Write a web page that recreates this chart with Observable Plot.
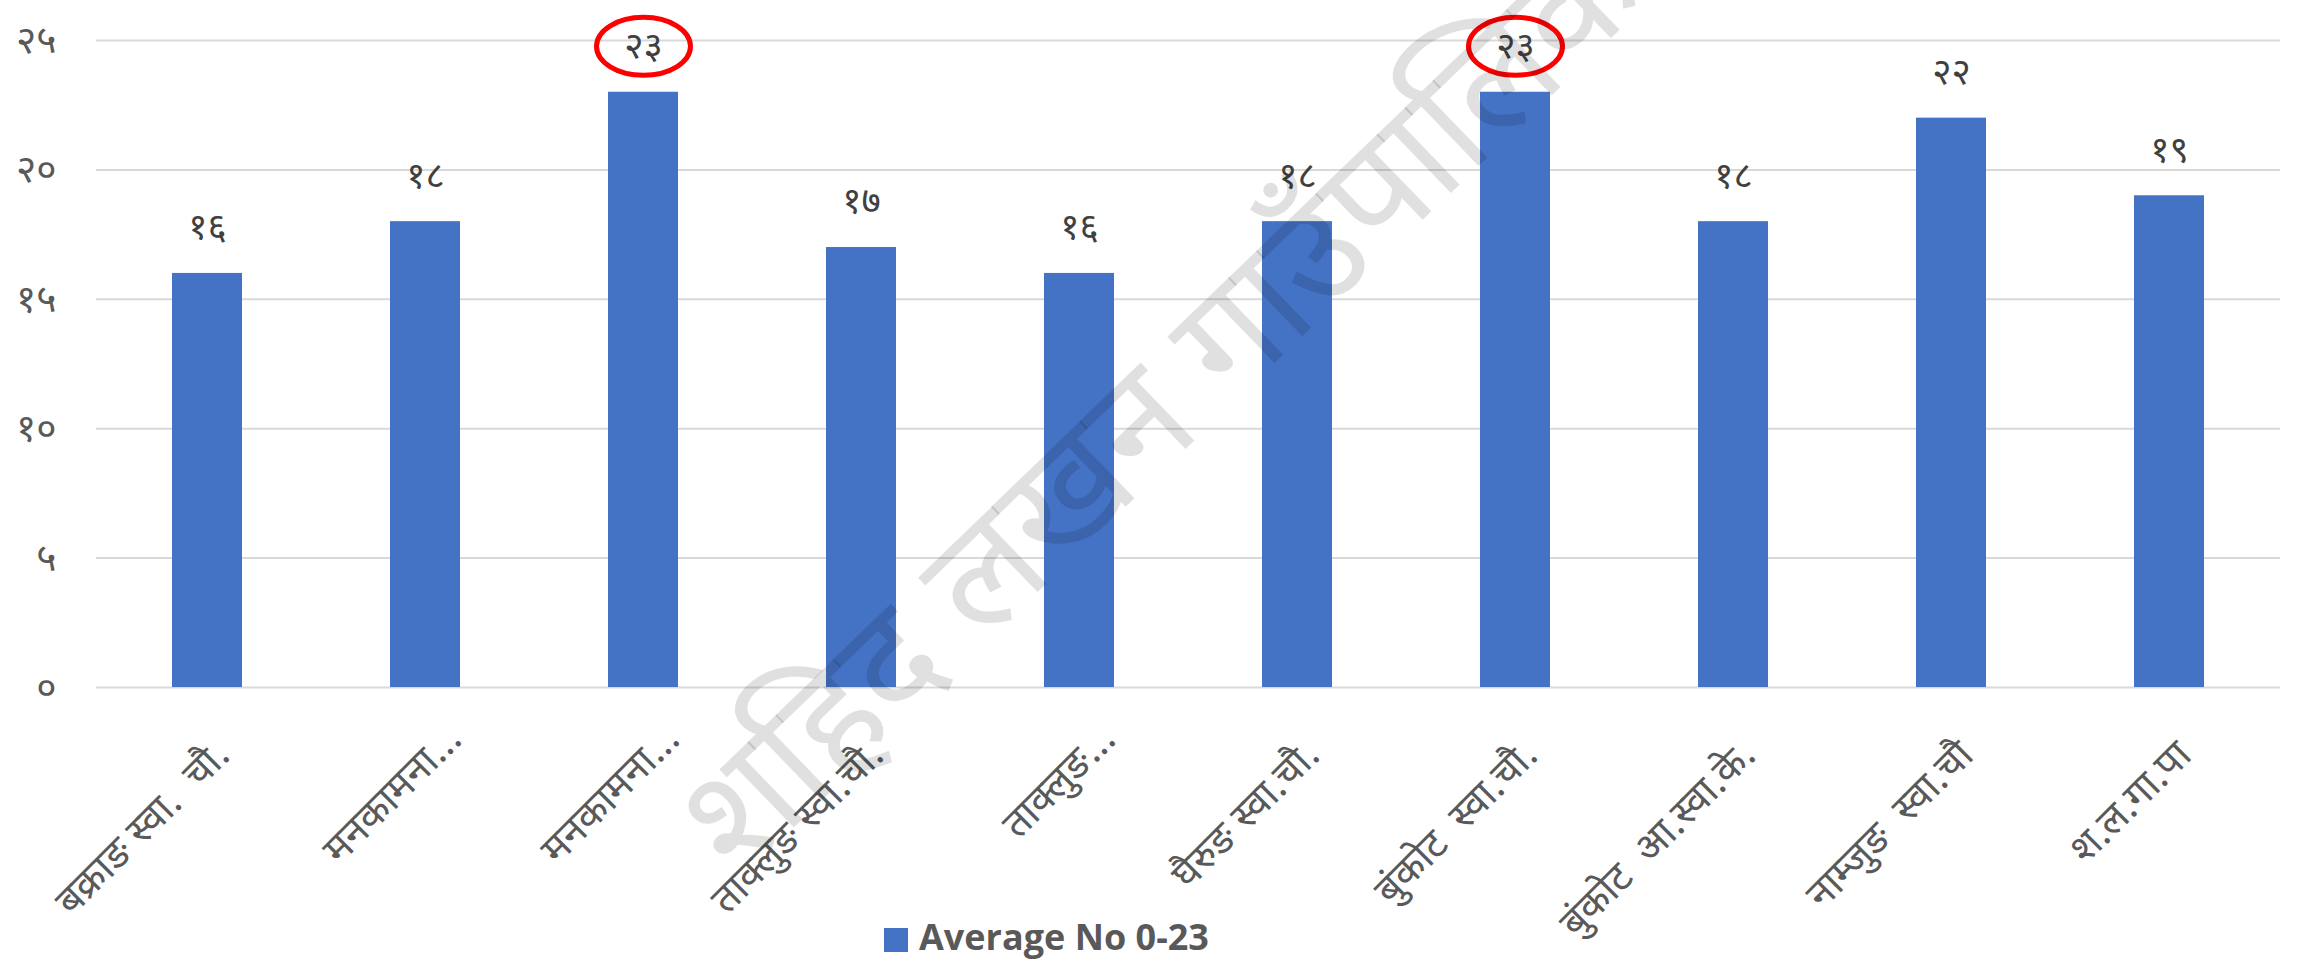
<!DOCTYPE html>
<html>
<head>
<meta charset="utf-8">
<script src="https://cdn.jsdelivr.net/npm/d3@7"></script>
<script src="https://cdn.jsdelivr.net/npm/@observablehq/plot@0.6"></script>
<style>
  html, body { margin: 0; padding: 0; background: #ffffff; }
  #chart { width: 2321px; height: 964px; position: relative; overflow: hidden; }
  #legend { position: relative; height: 64px; font-family: "Open Sans", "Noto Sans", sans-serif; }
  #legend .sw { position: absolute; left: 884px; top: 28px; width: 24px; height: 24px; background: #4472c4; }
  #legend .lb { position: absolute; left: 919px; top: 14px; font-size: 36px; font-weight: bold; color: #595959; line-height: 46px; white-space: nowrap; }
</style>
</head>
<body>
<div id="chart"></div>
<script>
// ---- data ----
const categories = [
  "बक्राङ स्वा.\u00a0 चौ.",
  "मनकामना...",
  "मनकामना...",
  "ताक्लुङ स्वा.चौ.",
  "ताक्लुङ...",
  "घैरुङ स्वा.चौ.",
  "बुंकोट\u00a0 स्वा.चौ.",
  "बुंकोट\u00a0 आ.स्वा.के.",
  "नाम्जुङ\u00a0 स्वा.चौ",
  "श.ल.गा.पा"
];
const values = [16, 18, 23, 17, 16, 18, 23, 18, 22, 19];
const valueLabels = ["१६", "१८", "२३", "१७", "१६", "१८", "२३", "१८", "२२", "१९"];
const highlighted = [2, 6];
const yTicks = [0, 5, 10, 15, 20, 25];
const yTickLabels = ["०", "५", "१०", "१५", "२०", "२५"];
const seriesName = "Average No 0-23";
const watermark = "शहिद लखन गाउँपालिका";

const rows = categories.map((c, i) => ({key: i, label: c, value: values[i], text: valueLabels[i]}));
const circled = rows.filter(d => highlighted.includes(d.key));
const fullLabels = rows.filter(d => !d.label.endsWith("..."));
const cutLabels = rows.filter(d => d.label.endsWith("..."));

const devFont = "'Noto Sans Devanagari', 'Noto Sans', 'Open Sans', sans-serif";

// ellipse symbol for the red highlight rings
const ellipse = {
  draw(ctx, size) {
    const r = Math.sqrt(size / Math.PI);
    const rx = r * 1.62, ry = r, k = 0.5523;
    ctx.moveTo(rx, 0);
    ctx.bezierCurveTo(rx, ry * k, rx * k, ry, 0, ry);
    ctx.bezierCurveTo(-rx * k, ry, -rx, ry * k, -rx, 0);
    ctx.bezierCurveTo(-rx, -ry * k, -rx * k, -ry, 0, -ry);
    ctx.bezierCurveTo(rx * k, -ry, rx, -ry * k, rx, 0);
    ctx.closePath();
  }
};

const labelStyle = {
  x: "key", text: "label", frameAnchor: "bottom", rotate: -45,
  textAnchor: "end", lineAnchor: "bottom", fontSize: 40, fill: "#595959"
};

const plot = Plot.plot({
  width: 2321,
  height: 900,
  marginLeft: 96,
  marginRight: 41,
  marginTop: 40,
  marginBottom: 213,
  style: {fontFamily: devFont, background: "#ffffff", overflow: "visible"},
  x: {type: "band", domain: rows.map(d => d.key), paddingInner: 0.68, paddingOuter: 0.34, axis: null},
  y: {domain: [0, 25], axis: null},
  marks: [
    Plot.gridY(yTicks, {stroke: "#d9d9d9", strokeOpacity: 1, strokeWidth: 2}),
    Plot.axisY(yTicks, {
      label: null, tickSize: 0, tickPadding: 40, fontSize: 39, fill: "#595959",
      tickFormat: d => yTickLabels[yTicks.indexOf(d)]
    }),
    Plot.barY(rows, {x: "key", y: "value", fill: "#4472c4"}),
    Plot.text(rows, {x: "key", y: "value", text: "text", dy: -46, fontSize: 37, fill: "#404040"}),
    Plot.dot(circled, {x: "key", y: "value", dy: -46, r: 29, symbol: ellipse, stroke: "#ff0000", strokeWidth: 5, fill: "none"}),
    Plot.text(fullLabels, {...labelStyle, dx: 24, dy: 70}),
    Plot.text(cutLabels, {...labelStyle, dx: 38, dy: 54}),
    Plot.text([watermark], {
      text: d => d, frameAnchor: "middle", dx: -12, dy: 27, rotate: -44,
      fontSize: 150, fill: "#000000", fillOpacity: 0.12
    })
  ]
});

const chart = document.getElementById("chart");
chart.appendChild(plot);
const legend = document.createElement("div");
legend.id = "legend";
legend.innerHTML = `<div class="sw"></div><div class="lb"></div>`;
legend.querySelector(".lb").textContent = seriesName;
chart.appendChild(legend);
</script>
</body>
</html>
